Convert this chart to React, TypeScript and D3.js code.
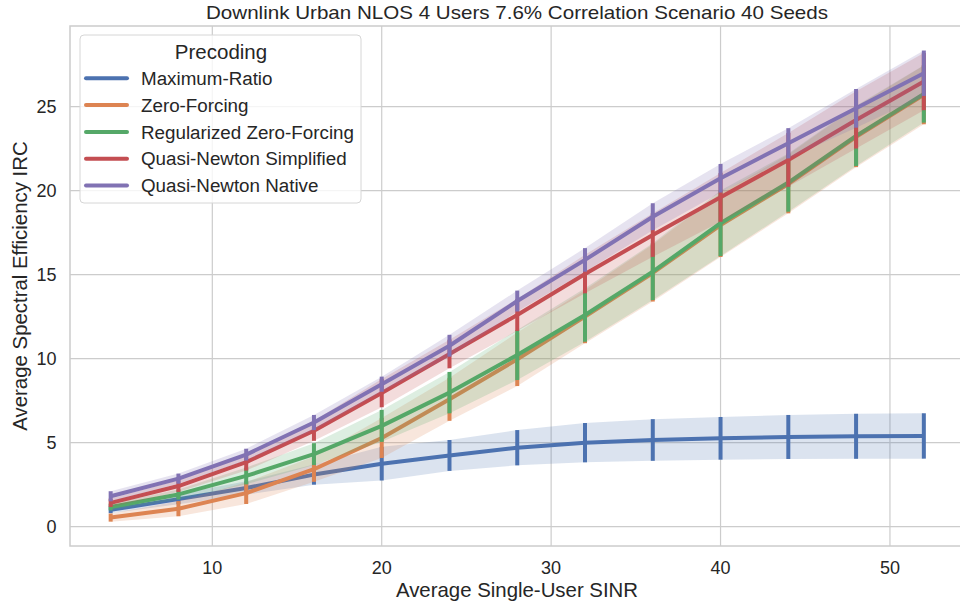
import React, { useEffect } from 'react';
import * as d3 from 'd3';

const sinr = [4, 8, 12, 16, 20, 24, 28, 32, 36, 40, 44, 48, 52];

const seriesNames = [
  'Maximum-Ratio',
  'Zero-Forcing',
  'Regularized Zero-Forcing',
  'Quasi-Newton Simplified',
  'Quasi-Newton Native',
];

const colors = ['#4c72b0', '#dd8452', '#55a868', '#c44e52', '#8172b3'];

// mean spectral efficiency per SINR point
const maxRatio = [1.0, 1.64, 2.3, 3.1, 3.75, 4.24, 4.7, 5.0, 5.16, 5.26, 5.34, 5.38, 5.4];
const zeroForcing = [0.54, 1.07, 2.0, 3.42, 5.28, 7.58, 9.96, 12.5, 15.1, 17.95, 20.4, 23.2, 25.7];
const regZeroForcing = [1.17, 1.92, 3.02, 4.32, 6.0, 7.98, 10.22, 12.6, 15.18, 18.06, 20.48, 23.26, 25.76];
const qnSimplified = [1.42, 2.42, 3.84, 5.71, 7.95, 10.28, 12.6, 15.04, 17.36, 19.6, 21.83, 24.21, 26.49];
const qnNative = [1.81, 2.86, 4.29, 6.2, 8.48, 10.77, 13.43, 15.88, 18.45, 20.74, 22.82, 24.9, 26.99];

// half-width of the error bars / bands
const maxRatioErr = [0.2, 0.3, 0.4, 0.6, 1.0, 0.92, 1.05, 1.17, 1.24, 1.27, 1.31, 1.34, 1.35];
const zeroForcingErr = [0.24, 0.45, 0.65, 0.75, 1.19, 1.28, 1.59, 1.58, 1.7, 1.9, 1.75, 1.8, 1.75];
const regZeroForcingErr = [0.2, 0.3, 0.5, 0.65, 0.95, 1.23, 1.49, 1.59, 1.69, 1.95, 1.73, 1.79, 1.71];
const qnSimplifiedErr = [0.25, 0.35, 0.5, 0.6, 0.84, 0.85, 0.95, 1.15, 1.3, 1.45, 1.6, 1.7, 1.7];
const qnNativeErr = [0.3, 0.3, 0.35, 0.45, 0.45, 0.65, 0.62, 0.7, 0.8, 0.85, 0.9, 1.15, 1.35];

const xTicks = [10, 20, 30, 40, 50];
const yTicks = [0, 5, 10, 15, 20, 25];

const means = [maxRatio, zeroForcing, regZeroForcing, qnSimplified, qnNative];
const errs = [maxRatioErr, zeroForcingErr, regZeroForcingErr, qnSimplifiedErr, qnNativeErr];

const W = 960;
const H = 609;
const font = '"Liberation Sans", Arial, sans-serif';
const grid = '#cccccc';
const ink = '#262626';

export default function App() {
  useEffect(() => {
    document.body.style.margin = '0';
  }, []);

  const x = d3.scaleLinear().domain([1.6, 54.4]).range([70, 964.5]);
  const y = d3.scaleLinear().domain([-1.15, 29.8]).range([546, 26]);

  const line = d3
    .line<number>()
    .x((_, i) => x(sinr[i]))
    .y((d) => y(d));

  const band = (m: number[], e: number[]) =>
    d3
      .area<number>()
      .x((_, i) => x(sinr[i]))
      .y0((d, i) => y(d - e[i]))
      .y1((d, i) => y(d + e[i]))(m) as string;

  return (
    <svg width={W} height={H} style={{ display: 'block', fontFamily: font }}>
      <rect x={0} y={0} width={W} height={H} fill="#fff" />
      {/* grid */}
      {xTicks.map((t) => (
        <line key={'gx' + t} x1={x(t)} x2={x(t)} y1={y.range()[1]} y2={y.range()[0]} stroke={grid} strokeWidth={1.2} />
      ))}
      {yTicks.map((t) => (
        <line key={'gy' + t} x1={x.range()[0]} x2={x.range()[1]} y1={y(t)} y2={y(t)} stroke={grid} strokeWidth={1.2} />
      ))}
      {/* spines */}
      <rect
        x={x.range()[0]}
        y={y.range()[1]}
        width={x.range()[1] - x.range()[0]}
        height={y.range()[0] - y.range()[1]}
        fill="none"
        stroke={grid}
        strokeWidth={1.5}
      />

      {means.map((m, k) => (
        <g key={seriesNames[k]}>
          <path d={band(m, errs[k])} fill={colors[k]} fillOpacity={0.2} stroke="none" />
          <path d={line(m) as string} fill="none" stroke={colors[k]} strokeWidth={4} strokeLinejoin="round" />
          {m.map((v, i) => (
            <line
              key={i}
              x1={x(sinr[i])}
              x2={x(sinr[i])}
              y1={y(v - errs[k][i])}
              y2={y(v + errs[k][i])}
              stroke={colors[k]}
              strokeWidth={4}
            />
          ))}
        </g>
      ))}

      {/* tick labels */}
      {xTicks.map((t) => (
        <text key={'tx' + t} x={x(t)} y={573.5} fontSize={18} textAnchor="middle" fill={ink}>
          {t}
        </text>
      ))}
      {yTicks.map((t) => (
        <text key={'ty' + t} x={56.5} y={y(t) + 6.6} fontSize={18} textAnchor="end" fill={ink}>
          {t}
        </text>
      ))}

      {/* axis titles */}
      <text x={517} y={597} fontSize={20.4} textAnchor="middle" fill={ink}>
        Average Single-User SINR
      </text>
      <text
        transform={`translate(27, ${(y.range()[0] + y.range()[1]) / 2}) rotate(-90)`}
        fontSize={20.4}
        textAnchor="middle"
        fill={ink}
      >
        Average Spectral Efficiency IRC
      </text>
      <text x={517} y={18.5} fontSize={18.5} textAnchor="middle" fill={ink} textLength={622} lengthAdjust="spacingAndGlyphs">
        Downlink Urban NLOS 4 Users 7.6% Correlation Scenario 40 Seeds
      </text>

      {/* legend */}
      <g>
        <rect x={80} y={35} width={281} height={168} rx={4} fill="#fff" fillOpacity={0.8} stroke="#d6d6d6" strokeWidth={1} />
        <text x={221} y={59} fontSize={20.5} textAnchor="middle" fill={ink}>
          Precoding
        </text>
        {seriesNames.map((n, k) => (
          <g key={n}>
            <line x1={86} x2={127} y1={78.3 + k * 26.8} y2={78.3 + k * 26.8} stroke={colors[k]} strokeWidth={4} strokeLinecap="round" />
            <text x={141} y={85 + k * 26.8} fontSize={18.8} fill={ink}>
              {n}
            </text>
          </g>
        ))}
      </g>
    </svg>
  );
}
